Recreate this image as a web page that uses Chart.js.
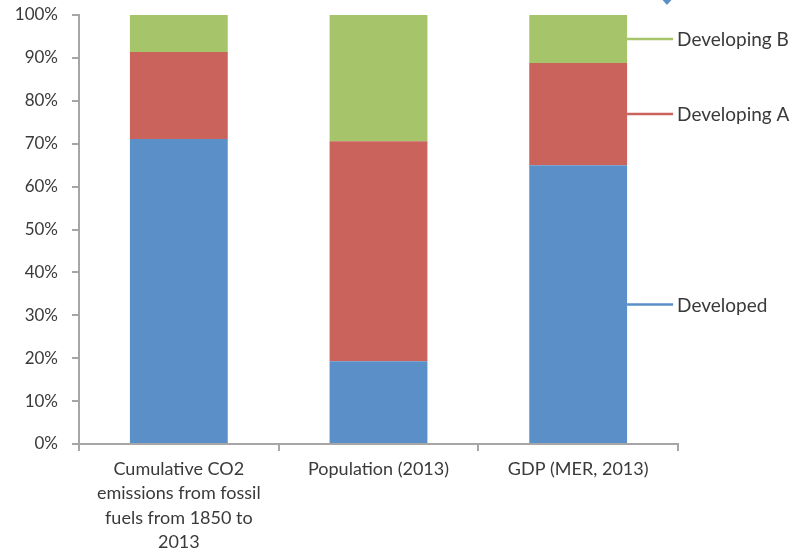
<!DOCTYPE html>
<html>
<head>
<meta charset="utf-8">
<script src="https://cdn.jsdelivr.net/npm/chart.js@4/dist/chart.umd.min.js"></script>
<style>
  html, body { margin: 0; padding: 0; background: #fff; }
  #wrap { width: 809px; height: 554px; position: relative; }
</style>
</head>
<body>
<div id="wrap"><canvas id="chart"></canvas></div>
<script>
const categories = [
  ["Cumulative CO2", "emissions from fossil", "fuels from 1850 to", "2013"],
  "Population (2013)",
  "GDP (MER, 2013)"
];
const developed = [71.1, 19.3, 65.0];
const developingA = [20.3, 51.3, 23.8];
const developingB = [8.6, 29.4, 11.2];
const yTicks = [0, 10, 20, 30, 40, 50, 60, 70, 80, 90, 100];

const axisGrey = "#a6a6a6";
const textColor = "#3a3a3a";
const fontFamily = "Lato, 'Open Sans', 'Liberation Sans', sans-serif";

// labels at the right of the last bar, joined by a short line
const sideLabels = {
  id: "sideLabels",
  afterDatasetsDraw(chart) {
    const ctx = chart.ctx;
    const y = chart.scales.y;
    const last = chart.data.labels.length - 1;
    ctx.save();
    ctx.font = "19px " + fontFamily;
    ctx.textBaseline = "middle";
    ctx.textAlign = "left";
    chart.data.datasets.forEach((ds, i) => {
      const bar = chart.getDatasetMeta(i).data[last];
      let base = 0;
      for (let j = 0; j < i; j++) base += chart.data.datasets[j].data[last];
      const mid = y.getPixelForValue(base + ds.data[last] / 2);
      const x0 = bar.x + bar.width / 2;
      ctx.strokeStyle = ds.backgroundColor;
      ctx.lineWidth = 2.5;
      ctx.beginPath();
      ctx.moveTo(x0, mid);
      ctx.lineTo(x0 + 46, mid);
      ctx.stroke();
      ctx.fillStyle = textColor;
      ctx.fillText(ds.label, x0 + 50, mid + 1);
    });
    // small blue marker cut off at top of picture
    ctx.fillStyle = "#5b8fc8";
    ctx.beginPath();
    ctx.moveTo(659, -4);
    ctx.lineTo(675, -4);
    ctx.lineTo(667, 5);
    ctx.closePath();
    ctx.fill();
    ctx.restore();
  }
};

new Chart(document.getElementById("chart"), {
  type: "bar",
  data: {
    labels: categories,
    datasets: [
      { label: "Developed", data: developed, backgroundColor: "#5b8fc8" },
      { label: "Developing A", data: developingA, backgroundColor: "#c9635b" },
      { label: "Developing B", data: developingB, backgroundColor: "#a6c46a" }
    ]
  },
  options: {
    responsive: true,
    maintainAspectRatio: false,
    animation: false,
    layout: { padding: { top: 15, right: 131, left: 0, bottom: 0 } },
    datasets: { bar: { barPercentage: 0.49, categoryPercentage: 1 } },
    plugins: { legend: { display: false }, tooltip: { enabled: false } },
    scales: {
      x: {
        stacked: true,
        afterFit(axis) { axis.height = 110; },
        border: { color: axisGrey, width: 2 },
        grid: { drawOnChartArea: false, drawTicks: true, tickLength: 7, color: axisGrey, lineWidth: 2 },
        ticks: { color: textColor, font: { family: fontFamily, size: 18, lineHeight: 1.35 }, padding: 6, maxRotation: 0 }
      },
      y: {
        stacked: true,
        min: 0,
        max: 100,
        afterBuildTicks(axis) { axis.ticks = yTicks.map(v => ({ value: v })); },
        afterFit(axis) { axis.width = 79; axis.paddingTop = 0; axis.paddingBottom = 0; },
        border: { color: axisGrey, width: 2 },
        grid: { drawOnChartArea: false, drawTicks: true, tickLength: 7, color: axisGrey, lineWidth: 2 },
        ticks: {
          color: textColor,
          font: { family: fontFamily, size: 17 },
          padding: 14,
          callback: v => v + "%"
        }
      }
    }
  },
  plugins: [sideLabels]
});
</script>
</body>
</html>
